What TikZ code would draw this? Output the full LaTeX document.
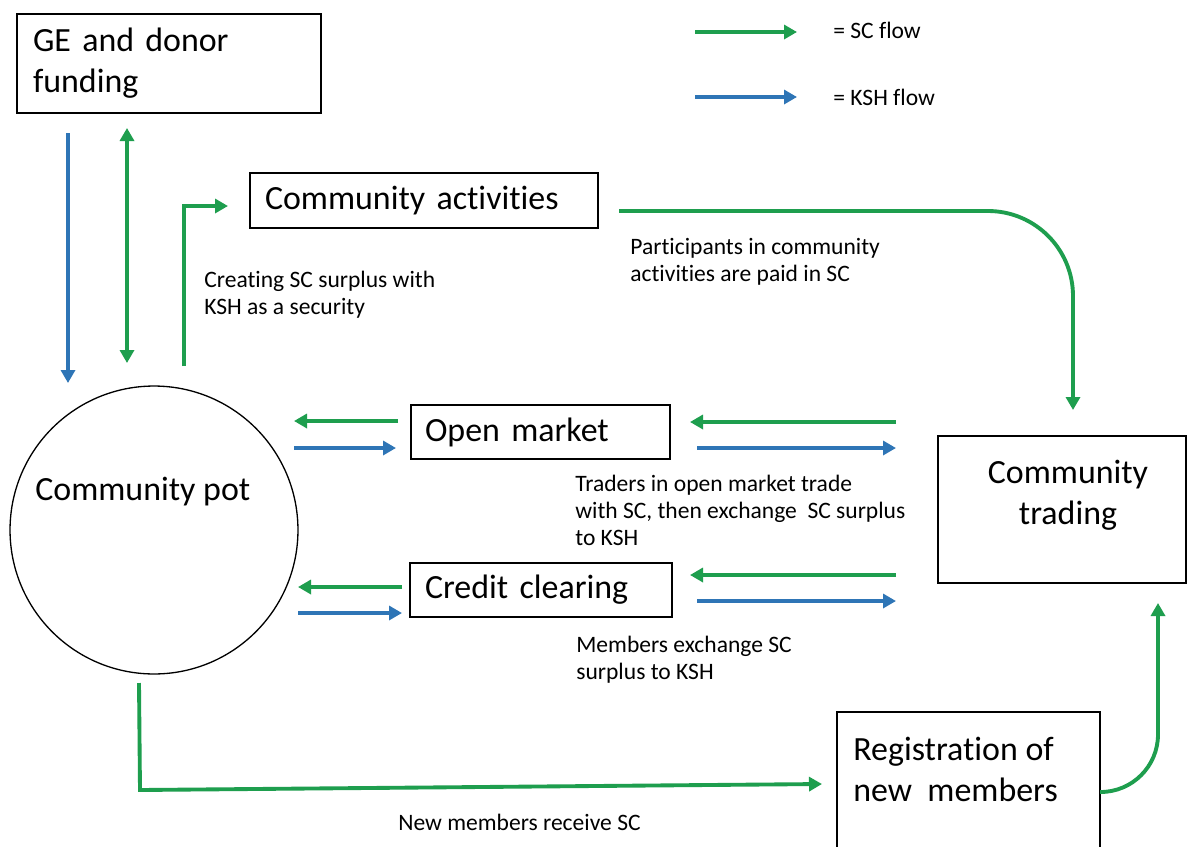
\documentclass[tikz,border=0pt]{standalone}
\usepackage{fontspec}
\setmainfont[Ligatures={NoCommon}]{Carlito}
\usetikzlibrary{arrows.meta}
\definecolor{scgreen}{RGB}{30,158,78}
\definecolor{kshblue}{RGB}{46,117,182}
\newcommand\dgbox{\fontsize{19.3pt}{23.3pt}\selectfont}
\newcommand\dglab{\fontsize{13.4pt}{15.4pt}\selectfont}
\tikzset{
  boxnode/.style={draw=black, line width=0.75pt, rectangle, inner ysep=0pt, font=\dgbox, align=left},
  bigtext/.style={inner sep=0pt, font=\dgbox},
  smalltext/.style={inner sep=0pt, font=\dglab, align=left, anchor=west},
  flow/.style={line width=2.2pt, -{Triangle[length=0.26cm,width=0.28cm]}},
  scflow/.style={flow, draw=scgreen},
  kshflow/.style={flow, draw=kshblue},
}
\begin{document}
\begin{tikzpicture}[x=0.02cm,y=-0.02cm]
\useasboundingbox[fill=white] (0,0) rectangle (1187,846);

% boxes
\node[boxnode, minimum width=6.08cm, minimum height=1.98cm, text width=5.44cm, inner xsep=0.32cm] (ge) at (169,63.5) {GE and donor\\funding};
\node[boxnode, minimum width=6.96cm, minimum height=1.1cm, text width=6.36cm, inner xsep=0.3cm] (act) at (424,200.5) {Community activities};
\node[boxnode, minimum width=5.18cm, minimum height=1.08cm, text width=4.62cm, inner xsep=0.28cm] (om) at (540.5,432) {Open market};
\node[boxnode, minimum width=5.24cm, minimum height=1.08cm, text width=4.64cm, inner xsep=0.3cm] (cc) at (541,590) {Credit clearing};
\node[draw=black, line width=0.75pt, rectangle, minimum width=4.96cm, minimum height=2.94cm, inner sep=0pt] (ct) at (1062,509.5) {};
\node[bigtext, align=center] (cttext) at (1068,495) {Community\\trading};
\node[draw=black, line width=0.75pt, rectangle, minimum width=5.26cm, minimum height=2.76cm, inner sep=0pt] (reg) at (968.5,781) {};
\node[bigtext, align=left, anchor=west] (regtext) at (853,769) {Registration of\\new\ \ members};
\node[draw=black, line width=0.75pt, circle, minimum size=5.76cm, inner sep=0pt] (pot) at (154,530) {};
\node[bigtext, anchor=west] (pottext) at (35,492) {Community pot};

% legend
\coordinate (lg1) at (695,32); \coordinate (lg2) at (797,32);
\coordinate (lb1) at (695,97); \coordinate (lb2) at (797,97);
\draw[scflow] (lg1) -- (lg2);
\draw[kshflow] (lb1) -- (lb2);
\node[smalltext] (legsc) at (833,30) {= SC flow};
\node[smalltext] (legksh) at (833,97) {= KSH flow};

% GE <-> pot
\coordinate (b1) at (68,133); \coordinate (b2) at (68,383);
\draw[kshflow] (b1) -- (b2);
\coordinate (g1) at (127,128); \coordinate (g2) at (127,363);
\draw[scflow, {Triangle[length=0.26cm,width=0.28cm]}-{Triangle[length=0.26cm,width=0.28cm]}] (g1) -- (g2);

% pot -> activities
\coordinate (e1) at (184,366); \coordinate (e2) at (228,206);
\draw[scflow] (e1) |- (e2);
\node[smalltext] (lcreate) at (204,294.5) {Creating SC surplus with\\KSH as a security};

% activities -> trading
\coordinate (a1) at (619,211); \coordinate (a2) at (1073,410);
\draw[scflow, rounded corners=1.7cm] (a1) -| (a2);
\node[smalltext] (lpart) at (630,261.5) {Participants in community\\activities are paid in SC};

% open market flows
\coordinate (om1) at (398,421); \coordinate (om2) at (294,421);
\coordinate (om3) at (294,448); \coordinate (om4) at (396,448);
\coordinate (om5) at (896,422); \coordinate (om6) at (690,422);
\coordinate (om7) at (697,448); \coordinate (om8) at (896,448);
\draw[scflow] (om1) -- (om2);
\draw[kshflow] (om3) -- (om4);
\draw[scflow] (om5) -- (om6);
\draw[kshflow] (om7) -- (om8);
\node[smalltext] (ltrade) at (575,510) {Traders in open market trade\\with SC, then exchange \ SC surplus\\to KSH};

% credit clearing flows
\coordinate (cc1) at (402,587); \coordinate (cc2) at (298,587);
\coordinate (cc3) at (298,613); \coordinate (cc4) at (402,613);
\coordinate (cc5) at (896,575); \coordinate (cc6) at (690,575);
\coordinate (cc7) at (697,601); \coordinate (cc8) at (896,601);
\draw[scflow] (cc1) -- (cc2);
\draw[kshflow] (cc3) -- (cc4);
\draw[scflow] (cc5) -- (cc6);
\draw[kshflow] (cc7) -- (cc8);
\node[smalltext] (lmem) at (576,659.5) {Members exchange SC\\surplus to KSH};

% pot -> registration
\coordinate (n1) at (139,683); \coordinate (n2) at (140,790); \coordinate (n3) at (822,784);
\draw[scflow] (n1) -- (n2) -- (n3);
\node[smalltext] (lnew) at (398,822) {New members receive SC};

% registration -> trading
\coordinate (r1) at (1100,792); \coordinate (r2) at (1158,603);
\draw[scflow, rounded corners=1.15cm] (r1) -| (r2);
\end{tikzpicture}
\end{document}
